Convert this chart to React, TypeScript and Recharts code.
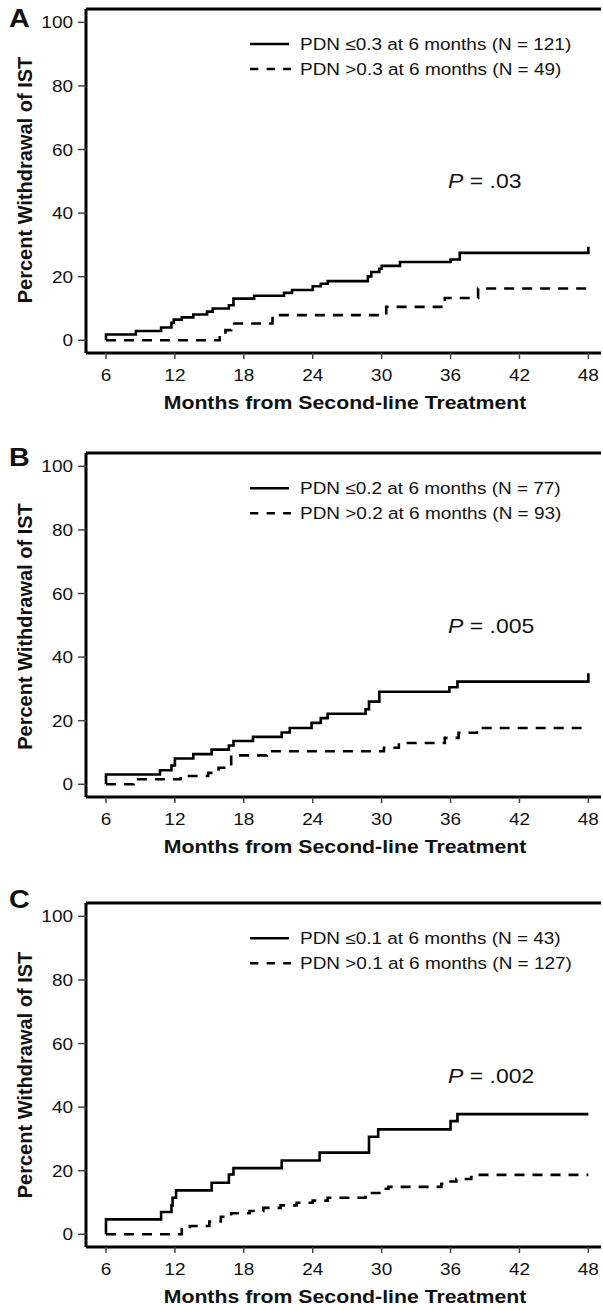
import React from 'react';
import { LineChart, Line, XAxis, YAxis, ReferenceLine } from 'recharts';

// month axis and percent axis ticks
const monthTicks = [6, 12, 18, 24, 30, 36, 42, 48];
const pctTicks = [0, 20, 40, 60, 80, 100];

// Panel A — PDN cut-off 0.3
const aLowMonths = [6, 6, 8.6, 10.8, 11.7, 11.9, 12.6, 13.6, 14.8, 15.3, 16.7, 17.1, 18.9, 21.5, 22.2, 24, 24.7, 25.3, 28.8, 29.1, 29.8, 30, 31.6, 36, 36.8, 48, 48];
const aLowPct = [0, 1.8, 2.9, 4.0, 5.5, 6.5, 7.2, 8.1, 9.0, 10.0, 11.0, 13.1, 14.0, 14.9, 15.8, 17.0, 17.8, 18.6, 20.1, 21.5, 22.5, 23.4, 24.6, 25.4, 27.5, 27.5, 29.4];
const aHighMonths = [6, 15.9, 16.4, 16.9, 20.5, 30.4, 35.5, 38.4, 48];
const aHighPct = [0, 1.8, 3.2, 5.3, 7.9, 10.5, 13.3, 16.3, 16.3];

// Panel B — PDN cut-off 0.2
const bLowMonths = [6, 6, 10.7, 11.7, 12, 13.6, 15.2, 16.7, 17.1, 18.8, 21.3, 22, 23.9, 24.7, 25.3, 28.6, 28.9, 29.8, 35.9, 36.6, 48, 48];
const bLowPct = [0, 3.1, 4.4, 5.9, 8.1, 9.5, 10.9, 12.2, 13.6, 14.9, 16.3, 17.7, 19.3, 20.8, 22.2, 23.6, 26.0, 29.1, 30.5, 32.3, 32.3, 34.9];
const bHighMonths = [6, 8.4, 12.5, 14.9, 15.8, 16.9, 20, 30.2, 31.5, 35.5, 36.7, 38.3, 48];
const bHighPct = [0, 1.6, 2.6, 3.6, 5.2, 9.1, 10.4, 11.5, 13.0, 14.6, 16.2, 17.7, 17.7];

// Panel C — PDN cut-off 0.1
const cLowMonths = [6, 6, 10.8, 11.7, 11.8, 12.1, 15.2, 16.7, 17.1, 21.3, 24.6, 28.9, 29.7, 36, 36.6, 48];
const cLowPct = [0, 4.7, 7.0, 9.1, 11.5, 13.8, 16.2, 18.8, 20.8, 23.2, 25.7, 30.7, 33.0, 35.6, 37.8, 37.8];
const cHighMonths = [6, 12.6, 13.3, 15, 16, 16.9, 18.5, 19.7, 21.2, 22.6, 24, 25.3, 28.6, 29.8, 30.6, 35.2, 35.5, 36.5, 37.8, 38.3, 48];
const cHighPct = [0, 1.6, 2.6, 4.0, 5.5, 6.6, 7.3, 8.3, 9.1, 9.9, 10.6, 11.5, 13.0, 14.3, 14.9, 15.9, 16.6, 17.4, 18.0, 18.7, 18.7];

const panelLetters = ['A', 'B', 'C'];
const lowLabels = ['PDN ≤0.3 at 6 months (N = 121)', 'PDN ≤0.2 at 6 months (N = 77)', 'PDN ≤0.1 at 6 months (N = 43)'];
const highLabels = ['PDN >0.3 at 6 months (N = 49)', 'PDN >0.2 at 6 months (N = 93)', 'PDN >0.1 at 6 months (N = 127)'];
const pValues = ['.03', '.005', '.002'];

const toRows = (months: number[], pct: number[]) => months.map((m, i) => ({ m, v: pct[i] }));

const series = [
    { low: toRows(aLowMonths, aLowPct), high: toRows(aHighMonths, aHighPct) },
    { low: toRows(bLowMonths, bLowPct), high: toRows(bHighMonths, bHighPct) },
    { low: toRows(cLowMonths, cLowPct), high: toRows(cHighMonths, cHighPct) },
];

// layout (frame top of each panel, letter baseline)
const frameTops = [9, 453.3, 903.3];
const letterY = [26.7, 465.7, 908.3];
const yTitleCenter = [180, 626.5, 1075];

const FONT = '"Liberation Sans", Arial, Helvetica, sans-serif';
const SX = 1.15; // source figure is stretched horizontally
const PLOT_H = 344;
const TOP_PAD = 10;
const Y_MAX = 104.2;
const Y_MIN = -4;

function SText({ x, y, size, bold, italic, anchor, children }: any) {
    return (
        <g transform={`translate(${x},${y}) scale(${SX},1)`}>
            <text
                textAnchor={anchor || 'start'}
                fontSize={size}
                fontWeight={bold ? 'bold' : 'normal'}
                fontStyle={italic ? 'italic' : 'normal'}
                fontFamily={FONT}
                fill="#111"
            >
                {children}
            </text>
        </g>
    );
}

const XTick = (p: any) => (
    <SText x={p.x} y={p.y + 13.8} size={16.5} anchor="middle">{p.payload.value}</SText>
);

const YTick = (p: any) => (
    <SText x={p.x} y={p.y + 6} size={16.5} anchor="end">{p.payload.value}</SText>
);

function Panel({ idx }: { idx: number }) {
    const s = series[idx];
    return (
        <div style={{ position: 'absolute', left: 0, top: frameTops[idx] - TOP_PAD }}>
            <LineChart
                width={603}
                height={TOP_PAD + PLOT_H + 60}
                margin={{ top: TOP_PAD, right: 2, bottom: 0, left: 26 }}
            >
                <XAxis
                    type="number"
                    dataKey="m"
                    domain={[4.26, 49.1]}
                    ticks={monthTicks}
                    allowDataOverflow
                    height={60}
                    axisLine={{ stroke: '#000', strokeWidth: 3 }}
                    tickLine={{ stroke: '#444', strokeWidth: 1.5 }}
                    tickSize={6}
                    tickMargin={8}
                    tick={XTick}
                    interval={0}
                />
                <YAxis
                    type="number"
                    domain={[Y_MIN, Y_MAX]}
                    ticks={pctTicks}
                    allowDataOverflow
                    width={60}
                    axisLine={{ stroke: '#000', strokeWidth: 3 }}
                    tickLine={{ stroke: '#444', strokeWidth: 1.5 }}
                    tickSize={8}
                    tickMargin={5}
                    tick={YTick}
                    interval={0}
                />
                <ReferenceLine y={Y_MAX} stroke="#000" strokeWidth={3} />
                <Line
                    data={s.low}
                    dataKey="v"
                    type="stepAfter"
                    stroke="#000"
                    strokeWidth={2.6}
                    dot={false}
                    isAnimationActive={false}
                />
                <Line
                    data={s.high}
                    dataKey="v"
                    type="stepAfter"
                    stroke="#000"
                    strokeWidth={2.6}
                    strokeDasharray="10 8"
                    dot={false}
                    isAnimationActive={false}
                />
            </LineChart>
        </div>
    );
}

function Labels() {
    return (
        <svg width={603} height={1310} style={{ position: 'absolute', left: 0, top: 0, pointerEvents: 'none' }}>
            {panelLetters.map((letter, i) => {
                const top = frameTops[i];
                const axisY = top + PLOT_H;
                const rowY = top + 35;
                const pY = top + (Y_MAX - 50) * (PLOT_H / (Y_MAX - Y_MIN)) + 7;
                return (
                    <g key={letter}>
                        <SText x={9} y={letterY[i]} size={25} bold>{letter}</SText>
                        <text
                            transform={`translate(31.5,${yTitleCenter[i]}) rotate(-90)`}
                            textAnchor="middle"
                            fontSize={20}
                            fontWeight="bold"
                            fontFamily={FONT}
                            fill="#111"
                        >
                            Percent Withdrawal of IST
                        </text>
                        <SText x={345} y={axisY + 56} size={18.5} bold anchor="middle">
                            Months from Second-line Treatment
                        </SText>
                        <line x1={250} x2={289} y1={rowY} y2={rowY} stroke="#000" strokeWidth={2.6} />
                        <SText x={300} y={rowY + 6} size={16.5}>{lowLabels[i]}</SText>
                        <line x1={250} x2={291} y1={rowY + 25} y2={rowY + 25} stroke="#000" strokeWidth={2.6} strokeDasharray="8.3 8.3" />
                        <SText x={300} y={rowY + 31} size={16.5}>{highLabels[i]}</SText>
                        <SText x={448} y={pY} size={20}>
                            <tspan fontStyle="italic">P</tspan>
                            <tspan> = {pValues[i]}</tspan>
                        </SText>
                    </g>
                );
            })}
        </svg>
    );
}

export default function App() {
    return (
        <div style={{ position: 'absolute', left: 0, top: 0, width: 603, height: 1310, background: '#fff' }}>
            <Panel idx={0} />
            <Panel idx={1} />
            <Panel idx={2} />
            <Labels />
        </div>
    );
}
